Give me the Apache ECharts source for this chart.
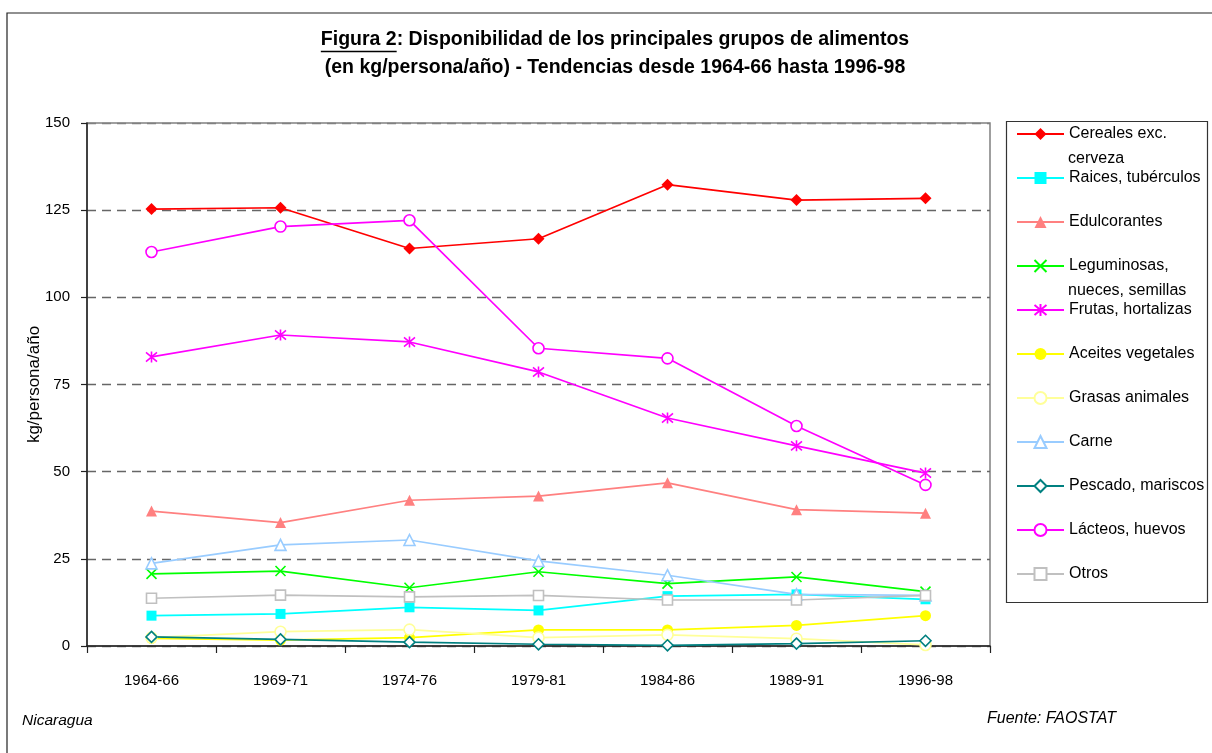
<!DOCTYPE html>
<html>
<head>
<meta charset="utf-8">
<script src="https://cdn.jsdelivr.net/npm/echarts@6/dist/echarts.min.js"></script>
<style>
html,body{margin:0;padding:0;background:#fff;}
#main{width:1212px;height:753px;}
</style>
</head>
<body>
<div id="main"></div>
<script>
const categories = ['1964-66','1969-71','1974-76','1979-81','1984-86','1989-91','1996-98'];
const yTicks = [0,25,50,75,100,125,150];
const cereales     = [125.3,125.7,114.0,116.8,132.3,127.9,128.4];
const raices       = [8.7,9.2,11.1,10.2,14.3,14.8,13.4];
const edulcorantes = [38.7,35.4,41.8,43.0,46.8,39.1,38.1];
const leguminosas  = [20.7,21.5,16.7,21.3,17.9,19.8,15.6];
const frutas       = [82.9,89.2,87.2,78.6,65.4,57.4,49.6];
const aceites      = [2.2,1.7,2.4,4.6,4.6,5.9,8.7];
const grasas       = [2.4,4.1,4.7,2.4,3.2,2.1,0.3];
const carne        = [23.7,29.0,30.4,24.4,20.3,14.8,14.5];
const pescado      = [2.6,1.9,1.1,0.5,0.2,0.7,1.5];
const lacteos      = [113.0,120.3,122.1,85.4,82.5,63.1,46.2];
const otros        = [13.7,14.6,14.1,14.5,13.2,13.2,14.5];

const seriesNames = ['Cereales exc. cerveza','Raices, tubérculos','Edulcorantes','Leguminosas, nueces, semillas','Frutas, hortalizas','Aceites vegetales','Grasas animales','Carne','Pescado, mariscos','Lácteos, huevos','Otros'];
const legendLine1 = ['Cereales exc.','Raices, tubérculos','Edulcorantes','Leguminosas,','Frutas, hortalizas','Aceites vegetales','Grasas animales','Carne','Pescado, mariscos','Lácteos, huevos','Otros'];
const legendLine2 = ['cerveza','','','nueces, semillas','','','','','','',''];
const titleLead = 'Figura 2';
const titleRest = ': Disponibilidad de los principales grupos de alimentos';
const titleLine2 = '(en kg/persona/año) - Tendencias desde 1964-66 hasta 1996-98';

const FONT = "'Liberation Sans', Arial, sans-serif";
const TITLE_FONT = 'bold 19.5px ' + FONT;
const xPath = 'path://M0,0L10,10M10,0L0,10';
const starPath = 'path://M0,0L10,10M10,0L0,10M5,-1L5,11';

function mk(name, data, color, symbol, size, open, opts) {
  opts = opts || {};
  return {
    name: name, type: 'line', data: data,
    symbol: symbol, symbolSize: size,
    showAllSymbol: true,
    lineStyle: {color: color, width: opts.lw || 1.7},
    itemStyle: open ? {color: opts.fill || '#ffffff', borderColor: color, borderWidth: 1.6}
                    : {color: color, borderColor: color, borderWidth: 0},
    emphasis: {disabled: true},
    animation: false
  };
}

const values = [cereales, raices, edulcorantes, leguminosas, frutas, aceites, grasas, carne, pescado, lacteos, otros];
const series = [
  mk(seriesNames[0], values[0], '#FF0000', 'diamond', 12, false),
  mk(seriesNames[1], values[1], '#00FFFF', 'rect', 10, false),
  mk(seriesNames[2], values[2], '#FF8080', 'triangle', 11, false),
  mk(seriesNames[3], values[3], '#00FF00', xPath, 10, true, {fill: 'rgba(0,0,0,0)'}),
  mk(seriesNames[4], values[4], '#FF00FF', starPath, 11, true, {fill: 'rgba(0,0,0,0)'}),
  mk(seriesNames[5], values[5], '#FFFF00', 'circle', 11, false),
  mk(seriesNames[6], values[6], '#FFFF99', 'circle', 11, true),
  mk(seriesNames[7], values[7], '#99CCFF', 'triangle', 11, true),
  mk(seriesNames[8], values[8], '#008080', 'diamond', 11, true),
  mk(seriesNames[9], values[9], '#FF00FF', 'circle', 11, true),
  mk(seriesNames[10], values[10], '#C0C0C0', 'rect', 10, true)
];

// measure title for underline
const cv = document.createElement('canvas').getContext('2d');
cv.font = TITLE_FONT;
const wLead = cv.measureText(titleLead).width;
const wAll = cv.measureText(titleLead + titleRest).width;
const titleCx = 615;
const ulX1 = titleCx - wAll / 2;

const graphics = [
  {type: 'rect', shape: {x: 7, y: 13, width: 1220, height: 760}, style: {fill: 'none', stroke: '#222', lineWidth: 1.2}, silent: true, z: -10},
  {type: 'text', x: titleCx, y: 40, style: {text: titleLead + titleRest, font: TITLE_FONT, fill: '#000', textAlign: 'center', textVerticalAlign: 'middle'}},
  {type: 'line', shape: {x1: ulX1, y1: 51.5, x2: ulX1 + wLead, y2: 51.5}, style: {stroke: '#000', lineWidth: 1.4}},
  {type: 'text', x: titleCx, y: 68, style: {text: titleLine2, font: TITLE_FONT, fill: '#000', textAlign: 'center', textVerticalAlign: 'middle'}},
  {type: 'rect', shape: {x: 1006.5, y: 121.5, width: 201, height: 481}, style: {fill: 'none', stroke: '#333', lineWidth: 1.2}, silent: true},
  {type: 'text', x: 22, y: 721, style: {text: 'Nicaragua', font: 'italic 15.5px ' + FONT, fill: '#000', textVerticalAlign: 'middle'}},
  {type: 'text', x: 987, y: 719, style: {text: 'Fuente: FAOSTAT', font: 'italic 16px ' + FONT, fill: '#000', textVerticalAlign: 'middle'}}
];
legendLine2.forEach(function (t, i) {
  if (t) graphics.push({type: 'text', x: 1068, y: 133 + 44 * i + 26, style: {text: t, font: '16px ' + FONT, fill: '#000', textVerticalAlign: 'middle'}});
});

const chart = echarts.init(document.getElementById('main'), null, {renderer: 'canvas'});
chart.setOption({
  backgroundColor: '#fff',
  animation: false,
  textStyle: {fontFamily: FONT},
  grid: {left: 87, top: 123, right: 222, bottom: 107, show: true, borderColor: '#808080', borderWidth: 1.5, backgroundColor: 'transparent'},
  legend: {
    orient: 'vertical', left: 1011, top: 121,
    itemWidth: 47, itemHeight: 15, itemGap: 28,
    selectedMode: false,
    data: seriesNames,
    formatter: function (n) { return legendLine1[seriesNames.indexOf(n)]; },
    textStyle: {fontSize: 16, fontFamily: FONT, color: '#000', lineHeight: 15}
  },
  xAxis: {
    type: 'category', data: categories, boundaryGap: true,
    axisLine: {lineStyle: {color: '#222', width: 1.5}},
    axisTick: {show: true, length: 7, lineStyle: {color: '#222', width: 1.2}},
    axisLabel: {color: '#000', fontSize: 15, fontFamily: FONT, margin: 27, interval: 0},
    splitLine: {show: false}
  },
  yAxis: {
    type: 'value', min: yTicks[0], max: yTicks[yTicks.length - 1], interval: 25,
    name: 'kg/persona/año', nameLocation: 'middle', nameRotate: 90, nameGap: 44,
    nameMoveOverlap: false,
    nameTextStyle: {color: '#000', fontSize: 17, fontFamily: FONT},
    axisLine: {show: true, lineStyle: {color: '#222', width: 1.5}},
    axisTick: {show: true, length: 6, lineStyle: {color: '#222', width: 1.2}},
    axisLabel: {color: '#000', fontSize: 15, fontFamily: FONT, margin: 17},
    splitLine: {show: true, lineStyle: {color: ['#666','#666','#666','#666','#666','#666','#808080'], type: [9, 6], width: 1.3}}
  },
  graphic: graphics,
  series: series
});
</script>
</body>
</html>
